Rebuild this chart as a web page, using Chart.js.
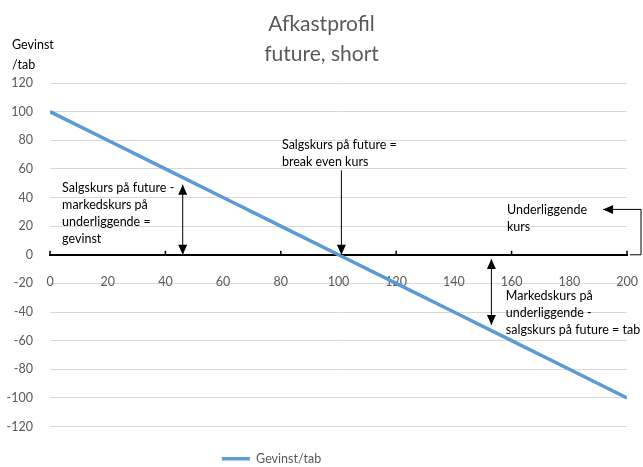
<!DOCTYPE html>
<html>
<head>
<meta charset="utf-8">
<script src="https://cdn.jsdelivr.net/npm/chart.js@4/dist/chart.umd.min.js"></script>
<style>
  body { margin: 0; background: #fff; }
  #wrap { width: 643px; height: 467px; }
</style>
</head>
<body>
<div id="wrap"><canvas id="myChart"></canvas></div>
<script>
// Data: underliggende kurs og gevinst/tab (short future, salgskurs 100)
const kurs = [0, 20, 40, 60, 80, 100, 120, 140, 160, 180, 200];
const gevinst = [100, 80, 60, 40, 20, 0, -20, -40, -60, -80, -100];
const titel = ['Afkastprofil', 'future, short'];
const serieNavn = 'Gevinst/tab';

// Tekster og pile (i dataværdier)
const noter = [
  { x: 4.2, y: 47, linjer: ['Salgskurs på future -', 'markedskurs på', 'underliggende =', 'gevinst'] },
  { x: 80.4, y: 77, linjer: ['Salgskurs på future =', 'break even kurs'] },
  { x: 158.4, y: 31, linjer: ['Underliggende', 'kurs'] },
  { x: 158, y: -29, linjer: ['Markedskurs på', 'underliggende -', 'salgskurs på future = tab'] }
];
const pile = [
  { x: 46, fra: 0, til: 49, start: true, slut: true },
  { x: 101, fra: 59, til: 0, start: false, slut: true },
  { x: 153, fra: -3, til: -49, start: true, slut: true }
];

const fontNavn = 'Lato, "Open Sans", sans-serif';

function pilHoved(ctx, x, y, retning) {
  // retning: 'op', 'ned', 'venstre'
  ctx.beginPath();
  if (retning === 'op') {
    ctx.moveTo(x, y); ctx.lineTo(x - 4.5, y + 10); ctx.lineTo(x + 4.5, y + 10);
  } else if (retning === 'ned') {
    ctx.moveTo(x, y); ctx.lineTo(x - 4.5, y - 10); ctx.lineTo(x + 4.5, y - 10);
  } else {
    ctx.moveTo(x, y); ctx.lineTo(x + 10, y - 4.5); ctx.lineTo(x + 10, y + 4.5);
  }
  ctx.closePath();
  ctx.fill();
}

const noterPlugin = {
  id: 'noter',
  afterLayout(chart) {
    // forklaringen sidder lidt til venstre for midten
    chart.legend.left -= 50;
    chart.legend.right -= 50;
  },
  afterDatasetsDraw(chart) {
    const ctx = chart.ctx;
    const x = chart.scales.x;
    const y = chart.scales.y;
    const y0 = y.getPixelForValue(0);
    ctx.save();

    // små tickmærker på x-aksen
    ctx.strokeStyle = '#000';
    ctx.lineWidth = 1.5;
    kurs.forEach(v => {
      if (v % 40 === 0) {
        const px = x.getPixelForValue(v);
        ctx.beginPath();
        ctx.moveTo(px, y0);
        ctx.lineTo(px, y0 - 4);
        ctx.stroke();
      }
    });

    // pile
    ctx.fillStyle = '#000';
    ctx.lineWidth = 1;
    pile.forEach(p => {
      const px = x.getPixelForValue(p.x);
      const a = y.getPixelForValue(p.fra);
      const b = y.getPixelForValue(p.til);
      ctx.beginPath();
      ctx.moveTo(px, a);
      ctx.lineTo(px, b);
      ctx.stroke();
      if (p.start) pilHoved(ctx, px, a, a < b ? 'op' : 'ned');
      if (p.slut) pilHoved(ctx, px, b, b < a ? 'op' : 'ned');
    });

    // klamme til "Underliggende kurs"
    const kx = x.right + 14;
    const ky = y.getPixelForValue(31.7);
    ctx.beginPath();
    ctx.moveTo(x.right + 3, y0);
    ctx.lineTo(kx, y0);
    ctx.lineTo(kx, ky);
    ctx.lineTo(x.getPixelForValue(191.7), ky);
    ctx.stroke();
    pilHoved(ctx, x.getPixelForValue(191.7), ky, 'venstre');

    // tekster
    ctx.font = '12.5px ' + fontNavn;
    ctx.fillStyle = '#000';
    ctx.textBaseline = 'middle';
    ctx.textAlign = 'left';
    noter.forEach(n => {
      const px = x.getPixelForValue(n.x);
      const py = y.getPixelForValue(n.y);
      n.linjer.forEach((t, i) => ctx.fillText(t, px, py + i * 17));
    });

    // y-aksens titel
    ctx.fillText('Gevinst', 12, 45);
    ctx.fillText('/tab', 12, 65);
    ctx.restore();
  }
};

const ctx = document.getElementById('myChart').getContext('2d');
new Chart(ctx, {
  type: 'line',
  data: {
    labels: kurs,
    datasets: [{
      label: serieNavn,
      data: kurs.map((k, i) => ({ x: k, y: gevinst[i] })),
      borderColor: '#5b9bd5',
      backgroundColor: '#5b9bd5',
      borderWidth: 3.5,
      pointRadius: 0,
      pointStyle: 'line',
      tension: 0
    }]
  },
  options: {
    responsive: true,
    maintainAspectRatio: false,
    animation: false,
    layout: { padding: { left: 0, right: 0, top: 0, bottom: -8 } },
    scales: {
      x: {
        type: 'linear',
        min: 0,
        max: 200,
        position: { y: 0 },
        grid: { display: false },
        border: { display: true, color: '#000', width: 2 },
        ticks: { stepSize: 20, padding: 12, color: '#595959', font: { family: fontNavn, size: 12.5 } },
        afterFit(scale) { scale.paddingLeft = 0; scale.paddingRight = 16; }
      },
      y: {
        min: -120,
        max: 120,
        grid: { color: '#d9d9d9', drawTicks: false },
        border: { display: false },
        ticks: { stepSize: 20, padding: 17, color: '#595959', font: { family: fontNavn, size: 12.5 } },
        afterFit(scale) { scale.width = 50; }
      }
    },
    plugins: {
      title: {
        display: true,
        text: titel,
        color: '#595959',
        font: { family: fontNavn, size: 21, weight: 'normal', lineHeight: 1.43 },
        padding: { top: 9, bottom: 14 }
      },
      legend: {
        position: 'bottom',
        labels: {
          usePointStyle: true,
          pointStyle: 'line',
          pointStyleWidth: 28,
          padding: 26,
          color: '#595959',
          font: { family: fontNavn, size: 12.5 }
        }
      },
      tooltip: { enabled: false }
    }
  },
  plugins: [noterPlugin]
});
</script>
</body>
</html>
